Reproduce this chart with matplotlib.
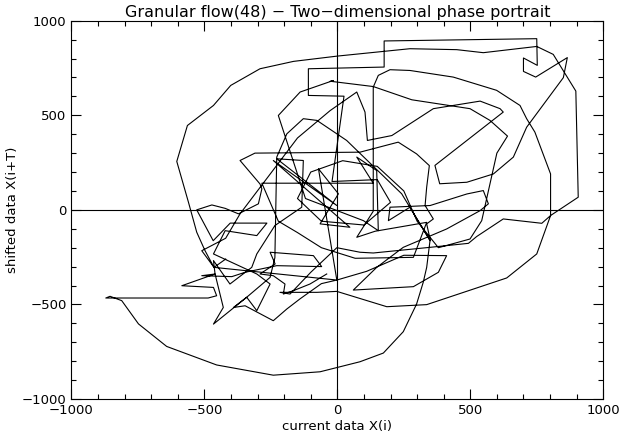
import numpy as np
import matplotlib
matplotlib.use("Agg")
import matplotlib.pyplot as plt
from matplotlib.ticker import MultipleLocator

# phase portrait vertices: current value X(i) and shifted value X(i+T)
x_cur = [
    # lower-left knot
    -40, -103, -165, -203, -197, -241, -291, -234, -253, -90, -59, -228, -347, -397,
    -510, -460, -585, -466, -454, -486, -871, -855,
    # long swing under the cloud
    -811, -748, -642, -454, -241, -65, 85, 173, 248, 298, 323, 336, 349, 336, 361, 330,
    336, 346, 298, 229, 85, -310, -366, -291, -284, -297, -372, -422, -472, -529,
    # back into the left knot
    -467, -403, -265, -303, -422, -466, -303, -253, -303, -341, -466, -429, -460, -466,
    -404, -322, -303, -235, -134, -128, -228, -2, -241, 47, -65, 4, -71,
    -2, 110, 250, 411, 380, 286, 60, 148, 248, 411, 537, 568, 549, 487, 349, 198, 192,
    273, 349, 242, 35, -77, -128, -190, -228, -235, -253, -341, -391, -347, -241, -190,
    -140, -60, -2,
    # big outer loop
    -464, -498, -529, -560, -604, -564, -466, -401, -291, -165, 0, 273, 449, 549, 750,
    812, 897, 906, 802, 750, 637, 336, 186, -2, -77, -216, -178,
    # inner loop on the right
    -100, -2, 85, 135, 349, 493, 524, 624, 769, 802, 802, 743, 712, 687, 599, 436, 273,
    198, 154, 135, 135,
    73, 142, 336, 286, 67, -60, -150, -222, -284, 135, 73, 148, 154, 98, -27, -120,
    -222, -140, -15, -27, 135, 280, 499, 574, 640, 600, 543, 499, 380,
    # loop through the middle
    300, 250, 150, 20, -100, -150, -60, 100, 200, 150, -20,
    # top excursion
    25, -109, -109, 176, 176, 750, 752, 700, 700, 746, 865, 850, 712, 662, 587, 487,
    385, 367, 624, 612, 537, 436, 361, 205, 113, 104, 73, -27, -150, -366, -420, -510,
    -464, -420,
]
y_shift = [
    -339, -392, -427, -445, -392, -348, -339, -286, -224, -242, -300, -295, -330, -353,
    -348, -339, -401, -410, -454, -466, -466, -457,
    -480, -603, -722, -820, -874, -856, -803, -757, -644, -498, -383, -304, -157, -74, -48, 23,
    120, 234, 296, 358, 305, 300, 261, 137, 111, 32, -21, 8, 26, 0,
    -163, -70, -70, -136, -110, -233, -339, -392, -533, -462, -604, -516, -339, -268,
    -392, -304, -233, -83, 14, 261, 270, 23, 261, -92, -74, 85, 217,
    -371, -325, -240, -242, -330, -406, -424, -304, -198, -101, -4, 32, 102, 84, 23, 14, -57,
    14, -163, 85, 367, 473, 482, 402, 279, -253, -357, -462, -516, -507, -586, -524,
    -470, -390, -371,
    -304, -215, -118, 40, 256, 446, 552, 658, 746, 785, 813, 852, 847, 831, 864,
    822, 628, 67, -30, -233, -360, -501, -512, -431, -436, -436, -445,
    -330, -200, -224, -228, -198, -177, -141, -48, -71, -30, 190, 411, 482, 552, 632, 702, 737,
    741, 711, 649, -7,
    -145, -113, -66, -251, -256, -200, -120, -60, 141, 141, 279, 208, -110, -57, 10, 60,
    499, 623, 684, 680, 652, 582, 535, 473, 390, 300, -57, -154, -200,
    -60, 100, 230, 260, 200, 60, -60, -80, 40, 160, 150,
    601, 605, 746, 755, 893, 905, 764, 803, 732, 702, 805, 699, 437, 279, 190, 146,
    138, 235, 517, 535, 575, 552, 535, 393, 367, 517, 623, 525, 380, -21, -150, -216,
    -304, -260,
]

plt.rcParams['font.family'] = ['DejaVu Sans']

fig = plt.figure(figsize=(6.19, 4.38), dpi=100)
ax = fig.add_axes([0.1155, 0.089, 0.859, 0.8637])

ax.plot(x_cur, y_shift, color='black', lw=0.8)
ax.axhline(0, color='black', lw=0.8)
ax.axvline(0, color='black', lw=0.8)

ax.set_xlim(-1000, 1000)
ax.set_ylim(-1000, 1000)
ax.xaxis.set_major_locator(MultipleLocator(500))
ax.xaxis.set_minor_locator(MultipleLocator(100))
ax.yaxis.set_major_locator(MultipleLocator(500))
ax.yaxis.set_minor_locator(MultipleLocator(100))
ax.tick_params(which='both', direction='in', top=True, right=True, width=0.8,
               labelsize=9.5, colors='black')
ax.tick_params(which='major', length=7)
ax.tick_params(which='minor', length=3.5)
ticks = [-1000, -500, 0, 500, 1000]
labels = ['\u22121000', '\u2212500', '0', '500', '1000']
ax.set_xticks(ticks)
ax.set_xticklabels(labels)
ax.set_yticks(ticks)
ax.set_yticklabels(labels)
for s in ax.spines.values():
    s.set_linewidth(0.8)

ax.set_title('Granular flow(48) \u2212 Two\u2212dimensional phase portrait', fontsize=11.5, pad=3)
ax.set_xlabel('current data X(i)', fontsize=9.5, labelpad=2)
ax.set_ylabel('shifted data X(i+T)', fontsize=9.5, labelpad=2)

fig.savefig('out.png', dpi=100, facecolor='white')
